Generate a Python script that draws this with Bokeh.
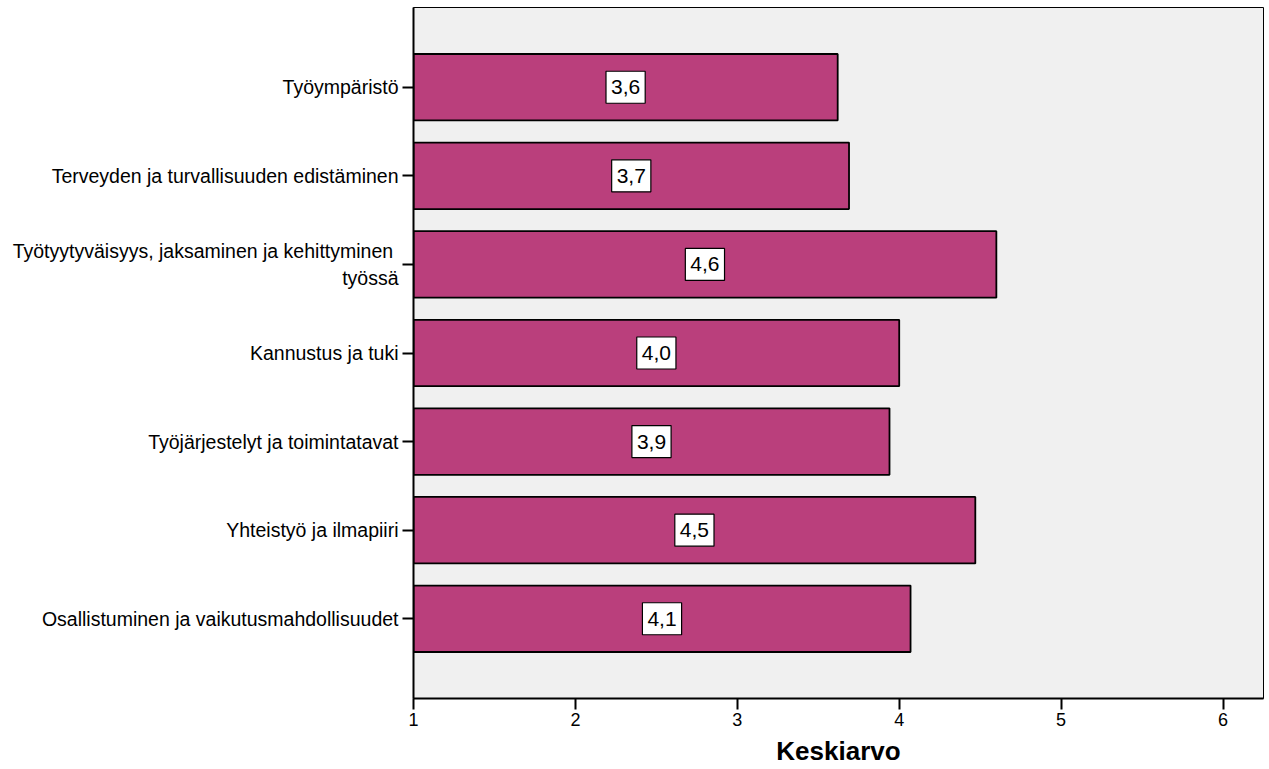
from bokeh.plotting import figure
from bokeh.models import ColumnDataSource, Range1d, FixedTicker
from bokeh.core.properties import value
from bokeh.embed import file_html
from bokeh.resources import INLINE

# Mean scores by theme (top to bottom)
categories = [
    "Työympäristö",
    "Terveyden ja turvallisuuden edistäminen",
    "Työtyytyväisyys, jaksaminen ja kehittyminen \ntyössä",
    "Kannustus ja tuki",
    "Työjärjestelyt ja toimintatavat",
    "Yhteistyö ja ilmapiiri",
    "Osallistuminen ja vaikutusmahdollisuudet",
]
means = [3.62, 3.69, 4.60, 4.00, 3.94, 4.47, 4.07]
x_ticks = [1, 2, 3, 4, 5, 6]
axis_start = 1

n = len(categories)
ypos = [n - i for i in range(n)]
source = ColumnDataSource(dict(
    y=ypos,
    left=[axis_start] * n,
    right=means,
    mid=[(axis_start + m) / 2 for m in means],
    txt=[f"{m:.1f}".replace(".", ",") for m in means],
))

FONT = "Liberation Sans"

p = figure(
    width=1269, height=769,
    x_range=Range1d(1, 6.25), y_range=Range1d(0.1, n + 0.9),
    output_backend="svg", toolbar_location=None,
    min_border_left=413, min_border_right=6,
    min_border_top=7, min_border_bottom=71,
)
p.background_fill_color = "#f0f0f0"
p.border_fill_color = "white"
p.outline_line_color = "black"
p.outline_line_width = 1
p.xgrid.visible = False
p.ygrid.visible = False

p.hbar(y="y", left="left", right="right", height=0.75, source=source,
       fill_color="#ba3f7c", line_color="black", line_width=1.8)

# value boxes at the middle of each bar
p.text(x="mid", y="y", text="txt", source=source,
       text_align="center", text_baseline="middle",
       text_font=value(FONT), text_font_size="21px", text_color="black",
       background_fill_color="white", border_line_color="black",
       border_line_width=1.2, padding=(5, 9))

# x axis
p.xaxis.ticker = FixedTicker(ticks=x_ticks)
p.xaxis.axis_label = "Keskiarvo"
p.xaxis.axis_label_text_font = FONT
p.xaxis.axis_label_text_font_style = "bold"
p.xaxis.axis_label_text_font_size = "26px"
p.xaxis.axis_label_text_color = "black"
p.xaxis.axis_label_standoff = 7
p.xaxis.major_label_text_font = FONT
p.xaxis.major_label_text_font_size = "18px"
p.xaxis.major_label_text_color = "black"
p.xaxis.major_label_standoff = 3
p.xaxis.major_tick_out = 11
p.xaxis.major_tick_in = 0
p.xaxis.minor_tick_line_color = None
p.xaxis.axis_line_width = 2
p.xaxis.major_tick_line_width = 2

# y axis with category names
p.yaxis.ticker = FixedTicker(ticks=ypos)
p.yaxis.major_label_overrides = {y: c for y, c in zip(ypos, categories)}
p.yaxis.major_label_text_font = FONT
p.yaxis.major_label_text_font_size = "19.5px"
p.yaxis.major_label_text_color = "black"
p.yaxis.major_label_standoff = 4
p.yaxis.major_tick_out = 11
p.yaxis.major_tick_in = 0
p.yaxis.minor_tick_line_color = None
p.yaxis.axis_line_width = 2
p.yaxis.major_tick_line_width = 2

open("out.html", "w").write(file_html(p, INLINE))
